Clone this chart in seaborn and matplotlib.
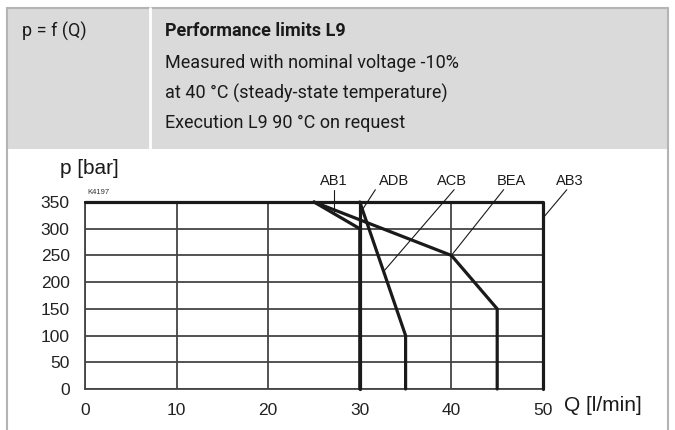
import numpy as np
import pandas as pd
import matplotlib.pyplot as plt
import seaborn as sns
from matplotlib.patches import Rectangle
from matplotlib.lines import Line2D

# Kennlinien p = f(Q) (Q in l/min, p in bar)
ab1_q = [25, 30, 30]
ab1_p = [350, 300, 0]
adb_q = [30, 30]
adb_p = [350, 0]
acb_q = [30, 35, 35]
acb_p = [350, 100, 0]
bea_q = [25, 40, 45, 45]
bea_p = [350, 250, 150, 0]
ab3_q = [0, 50, 50]
ab3_p = [350, 350, 0]

curve_names = ['AB1', 'ADB', 'ACB', 'BEA', 'AB3']
x_ticks = [0, 10, 20, 30, 40, 50]
y_ticks = [0, 50, 100, 150, 200, 250, 300, 350]

header_lines = ['Measured with nominal voltage -10%',
                'at 40 °C (steady-state temperature)',
                'Execution L9 90 °C on request']

rows = []
for name, qs, ps in zip(curve_names,
                        [ab1_q, adb_q, acb_q, bea_q, ab3_q],
                        [ab1_p, adb_p, acb_p, bea_p, ab3_p]):
    for i, (q, p) in enumerate(zip(qs, ps)):
        rows.append({'kurve': name, 'ordnung': i, 'Q': q, 'p': p})
df = pd.DataFrame(rows)

sns.set_style('white')
plt.rcParams['font.family'] = ['Liberation Sans', 'DejaVu Sans']

W, H = 675, 430
fig = plt.figure(figsize=(W / 100, H / 100), dpi=100)

def fx(px):
    return px / W

def fy(py):
    return 1 - py / H

# Kopfbereich
fig.patches.append(Rectangle((fx(7), fy(149)), fx(661), 141 / H,
                             transform=fig.transFigure, facecolor='#dadada',
                             edgecolor='none', zorder=0))
grau = '#b4b4b4'
fig.lines.append(Line2D([fx(7), fx(7)], [fy(8), 0], transform=fig.transFigure, color=grau, lw=1.5))
fig.lines.append(Line2D([fx(668), fx(668)], [fy(8), 0], transform=fig.transFigure, color=grau, lw=1.5))
fig.lines.append(Line2D([fx(7), fx(668)], [fy(8), fy(8)], transform=fig.transFigure, color=grau, lw=1.5))
fig.lines.append(Line2D([fx(150), fx(150)], [fy(8), fy(149)], transform=fig.transFigure, color='white', lw=2))

kopf_font = ['Roboto', 'DejaVu Sans']
fig.text(fx(22), fy(31), 'p = f (Q)', family=kopf_font, fontsize=13, va='center', color='#1a1a1a')
fig.text(fx(165), fy(31), 'Performance limits L9', family=kopf_font, fontsize=13,
         fontweight='bold', va='center', color='#1a1a1a')
for i, line in enumerate(header_lines):
    fig.text(fx(165), fy(63 + 30 * i), line, family=kopf_font, fontsize=13,
             va='center', color='#1a1a1a')

# Diagramm
ax = fig.add_axes([fx(85), fy(389), fx(543 - 85), (389 - 202) / H])
ax.set_xlim(0, 50)
ax.set_ylim(0, 350)
ax.set_xticks(x_ticks)
ax.set_yticks(y_ticks)
ax.grid(True, color='#444444', lw=1.3)
for s in ['top', 'right']:
    ax.spines[s].set_visible(False)
for s in ['left', 'bottom']:
    ax.spines[s].set_color('#444444')
    ax.spines[s].set_linewidth(1.3)
ax.tick_params(axis='y', length=0, labelsize=12.5, colors='#222222', pad=11)
ax.tick_params(axis='x', length=0, labelsize=12.5, colors='#222222', pad=10)

sns.lineplot(data=df, x='Q', y='p', units='kurve', sort=False, estimator=None,
             color='#1a1a1a', lw=2.3, ax=ax, clip_on=False, zorder=5)
ax.set_xlabel('')
ax.set_ylabel('')

# Beschriftungen der Kurven mit Hinweislinien
label_q = [27.15, 33.7, 40.1, 46.5, 52.9]
leader_start = [(27.15, 372), (31.7, 373), (40.3, 373), (45.7, 373), (52.6, 373)]
leader_end = [(27.15, 328.5), (30.3, 336), (32.6, 220), (40, 250), (50, 320)]
for name, lq, (sq, sp), (eq, ep) in zip(curve_names, label_q, leader_start, leader_end):
    ax.text(lq, 389, name, ha='center', va='center', fontsize=10.5, color='#1a1a1a')
    ax.plot([sq, eq], [sp, ep], color='#1a1a1a', lw=0.8, clip_on=False, zorder=6)

ax.text(0.3, 362, 'K4197', fontsize=5.5, color='#333333', va='bottom')
ax.text(-2.7, 412, 'p [bar]', fontsize=15, ha='left', va='center', color='#1a1a1a')
ax.text(52.3, -30, 'Q [l/min]', fontsize=15, ha='left', va='center', color='#1a1a1a')

fig.savefig('out.png', dpi=100)
